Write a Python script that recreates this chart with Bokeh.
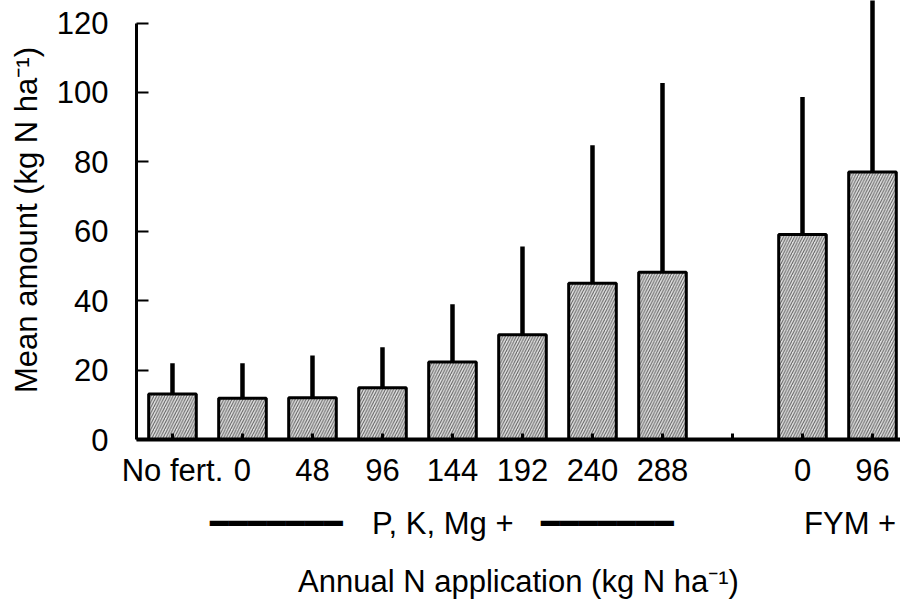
from bokeh.plotting import figure
from bokeh.models import Range1d, FixedTicker, LinearAxis, ColumnDataSource
from bokeh.embed import file_html
from bokeh.resources import INLINE

# ---- data ----
treatments = ["No fert.", "0", "48", "96", "144", "192", "240", "288", "0", "96"]
groups = ["none", "PKMg", "PKMg", "PKMg", "PKMg", "PKMg", "PKMg", "PKMg", "FYM", "FYM"]
mean_n = [13.1, 11.9, 12.0, 14.9, 22.3, 30.2, 45.0, 48.2, 59.1, 77.1]
upper_n = [22.0, 22.0, 24.2, 26.6, 39.0, 55.6, 84.8, 102.7, 98.7, 127.0]
y_ticks = [0, 20, 40, 60, 80, 100, 120]
group_names = {"PKMg": "P, K, Mg +", "FYM": "FYM +"}

FONT = "Liberation Sans"
FS = "31px"

# slot positions: one per bar, an empty slot before the FYM group
xpos = []
slot = 0
prev = None
for g in groups:
    if prev is not None and g != prev and prev != "none":
        slot += 1
    xpos.append(slot)
    slot += 1
    prev = g
gaps = [s for s in range(slot) if s not in xpos]

src = ColumnDataSource(dict(x=xpos, mean=mean_n, upper=upper_n, label=treatments))

p = figure(width=900, height=601, output_backend="svg", toolbar_location=None,
           x_range=Range1d(-0.514, 10.4), y_range=Range1d(0, 126.5),
           min_border_left=136, min_border_right=0, min_border_top=0,
           min_border_bottom=161, title=None)
p.outline_line_color = None
p.xgrid.visible = False
p.ygrid.visible = False
p.background_fill_color = "white"

p.vbar(x="x", top="mean", bottom=0, width=0.68, source=src,
       fill_color="#e2e2e2", hatch_pattern="/", hatch_color="#5a5a5a",
       hatch_scale=5.5, hatch_weight=1, line_color="black", line_width=3)
p.segment(x0="x", y0="mean", x1="x", y1="upper", source=src,
          line_color="black", line_width=4.5)

# main x axis (treatment labels)
xa = p.xaxis[0]
xa.ticker = FixedTicker(ticks=xpos + gaps)
ov = {x: t for x, t in zip(xpos, treatments)}
for g in gaps:
    ov[g] = ""
xa.major_label_overrides = ov
xa.major_label_text_font = FONT
xa.major_label_text_font_size = FS
xa.major_label_text_color = "black"
xa.major_label_standoff = 13
xa.major_tick_in = 6
xa.major_tick_out = 0
xa.major_tick_line_width = 3
xa.minor_tick_line_color = None
xa.axis_line_width = 4
xa.axis_line_color = "black"

# second axis below: group names with rules, plus the axis title
pk = [x for x, g in zip(xpos, groups) if g == "PKMg"]
fy = [x for x, g in zip(xpos, groups) if g == "FYM"]
pk_text = min(pk) + 2.86
rule_left = (min(pk) - 0.386 + pk_text - 1.5) / 2
rule_right = (pk_text + 1.47 + max(pk) + 0.11) / 2
fy_text = sum(fy) / len(fy) + 0.18
RULE = "\u2501" * 7
ga = LinearAxis(ticker=FixedTicker(ticks=[rule_left, pk_text, rule_right, fy_text]),
                major_label_overrides={rule_left: RULE, pk_text: group_names["PKMg"],
                                       rule_right: RULE, fy_text: group_names["FYM"]})
ga.axis_line_color = None
ga.major_tick_line_color = None
ga.minor_tick_line_color = None
ga.major_label_text_font = FONT
ga.major_label_text_font_size = FS
ga.major_label_text_color = "black"
ga.major_label_standoff = 9
ga.axis_label = "Annual N application (kg N ha\u207b\u00b9)"
ga.axis_label_text_font = FONT
ga.axis_label_text_font_size = FS
ga.axis_label_text_font_style = "normal"
ga.axis_label_text_color = "black"
ga.axis_label_standoff = 20
p.add_layout(ga, "below")

# y axis
ya = p.yaxis[0]
ya.bounds = (0, 120)
ya.ticker = FixedTicker(ticks=y_ticks)
ya.major_label_text_font = FONT
ya.major_label_text_font_size = FS
ya.major_label_text_color = "black"
ya.major_label_standoff = 28
ya.major_tick_in = 12
ya.major_tick_out = 0
ya.major_tick_line_width = 2
ya.minor_tick_line_color = None
ya.axis_line_width = 3
ya.axis_line_color = "black"
ya.axis_label = "Mean amount (kg N ha\u207b\u00b9)"
ya.axis_label_text_font = FONT
ya.axis_label_text_font_size = FS
ya.axis_label_text_font_style = "normal"
ya.axis_label_text_color = "black"
ya.axis_label_standoff = 10

open("out.html", "w").write(file_html(p, INLINE))
